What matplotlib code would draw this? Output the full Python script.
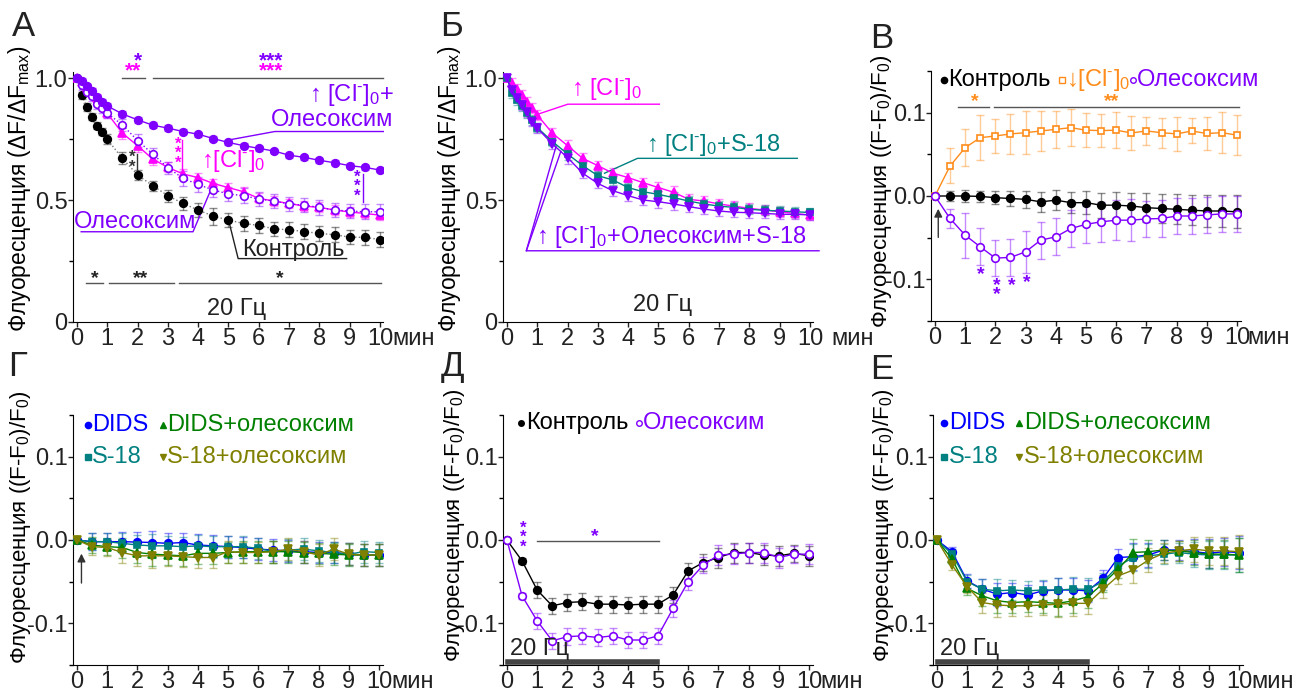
import numpy as np
import matplotlib
matplotlib.use("Agg")
import matplotlib.pyplot as plt
from matplotlib.lines import Line2D

plt.rcParams['font.family'] = ['Liberation Sans', 'DejaVu Sans']
plt.rcParams['mathtext.fontset'] = 'custom'
plt.rcParams['mathtext.rm'] = 'Liberation Sans'
plt.rcParams['mathtext.it'] = 'Liberation Sans'
plt.rcParams['axes.unicode_minus'] = False

# ---------------- data ----------------
# panels A and Б: fast sampling during the first minute
t_ab = [0, 1/6, 2/6, 3/6, 4/6, 5/6, 1, 1.5, 2, 2.5, 3, 3.5, 4, 4.5, 5, 5.5,
        6, 6.5, 7, 7.5, 8, 8.5, 9, 9.5, 10]
# other panels: every 30 s
t_half = [0, 0.5, 1, 1.5, 2, 2.5, 3, 3.5, 4, 4.5, 5, 5.5, 6, 6.5, 7, 7.5,
          8, 8.5, 9, 9.5, 10]

# A
a_ctrl = [1.0, 0.929, 0.881, 0.842, 0.805, 0.781, 0.749, 0.671, 0.603, 0.559,
          0.518, 0.486, 0.459, 0.434, 0.418, 0.404, 0.396, 0.382, 0.378, 0.371,
          0.363, 0.358, 0.348, 0.347, 0.338]
a_ctrl_err = [0, 0.015, 0.015, 0.015, 0.015, 0.015, 0.02, 0.025, 0.02, 0.02,
              0.025, 0.025, 0.03, 0.035, 0.03, 0.03, 0.03, 0.03, 0.03, 0.03,
              0.03, 0.03, 0.03, 0.03, 0.03]
a_cl_ole = [1.0, 0.99, 0.966, 0.948, 0.922, 0.904, 0.886, 0.853, 0.829, 0.807,
            0.795, 0.781, 0.770, 0.752, 0.736, 0.723, 0.712, 0.701, 0.684,
            0.675, 0.663, 0.653, 0.641, 0.634, 0.623]
a_cl_ole_err = [0, 0.01, 0.01, 0.01, 0.01, 0.01, 0.01, 0.012, 0.012, 0.012,
                0.012, 0.012, 0.01, 0.01, 0.01, 0.01, 0.01, 0.01, 0.01, 0.01,
                0.01, 0.01, 0.01, 0.01, 0.01]
a_cl = [1.0, 0.982, 0.959, 0.945, 0.918, 0.897, 0.856, 0.774, 0.723, 0.668,
        0.634, 0.607, 0.592, 0.568, 0.551, 0.534, 0.507, 0.496, 0.486, 0.475,
        0.470, 0.459, 0.451, 0.445, 0.438]
a_cl_err = [0, 0.015, 0.015, 0.015, 0.015, 0.015, 0.02, 0.025, 0.025, 0.025,
            0.02, 0.02, 0.02, 0.02, 0.02, 0.02, 0.02, 0.02, 0.02, 0.02, 0.02,
            0.02, 0.02, 0.02, 0.02]
a_ole = [1.0, 0.973, 0.945, 0.925, 0.893, 0.877, 0.856, 0.808, 0.744, 0.689,
         0.633, 0.589, 0.564, 0.541, 0.525, 0.518, 0.504, 0.496, 0.484, 0.479,
         0.470, 0.459, 0.455, 0.452, 0.452]
a_ole_err = [0, 0.02, 0.02, 0.02, 0.02, 0.02, 0.02, 0.025, 0.025, 0.025, 0.025,
             0.03, 0.03, 0.03, 0.03, 0.03, 0.03, 0.03, 0.03, 0.03, 0.03, 0.03,
             0.03, 0.03, 0.03]

# Б
b_cl = [1.0, 0.979, 0.955, 0.932, 0.904, 0.877, 0.849, 0.774, 0.723, 0.671,
        0.641, 0.610, 0.592, 0.571, 0.551, 0.532, 0.503, 0.496, 0.484, 0.475,
        0.466, 0.459, 0.452, 0.445, 0.438]
b_cl_s18 = [1.0, 0.94, 0.91, 0.885, 0.856, 0.829, 0.797, 0.74, 0.689, 0.641,
            0.60, 0.582, 0.551, 0.534, 0.523, 0.51, 0.496, 0.484, 0.475, 0.47,
            0.462, 0.458, 0.455, 0.452, 0.449]
b_cl_ole_s18 = [1.0, 0.95, 0.92, 0.89, 0.86, 0.822, 0.795, 0.73, 0.674, 0.61,
                0.568, 0.538, 0.518, 0.50, 0.493, 0.484, 0.473, 0.463, 0.455,
                0.45, 0.448, 0.445, 0.442, 0.441, 0.44]
b_err = [0, 0.02, 0.02, 0.02, 0.02, 0.02, 0.02, 0.02, 0.025, 0.02, 0.02, 0.02,
         0.02, 0.02, 0.025, 0.025, 0.02, 0.02, 0.02, 0.02, 0.02, 0.02, 0.02,
         0.02, 0.02]

# В
c_ctrl = [0, 0, 0, -0.0005, -0.002, -0.003, -0.004, -0.007, -0.005, -0.008,
          -0.008, -0.011, -0.011, -0.012, -0.014, -0.015, -0.016, -0.017,
          -0.018, -0.018, -0.019]
c_ctrl_err = [0, 0.006, 0.007, 0.007, 0.008, 0.009, 0.01, 0.012, 0.012, 0.013,
              0.014, 0.015, 0.016, 0.016, 0.017, 0.017, 0.018, 0.018, 0.019,
              0.019, 0.02]
c_lowcl = [0, 0.036, 0.058, 0.070, 0.072, 0.0745, 0.076, 0.078, 0.080, 0.082,
           0.079, 0.0785, 0.079, 0.0757, 0.078, 0.076, 0.0745, 0.078, 0.075,
           0.076, 0.073]
c_lowcl_err = [0, 0.021, 0.022, 0.027, 0.02, 0.024, 0.026, 0.024, 0.022, 0.022,
               0.02, 0.02, 0.022, 0.02, 0.017, 0.018, 0.02, 0.015, 0.02, 0.025,
               0.024]
c_ole = [0, -0.027, -0.047, -0.061, -0.0745, -0.0737, -0.067, -0.053, -0.049,
         -0.039, -0.034, -0.031, -0.029, -0.029, -0.0275, -0.027, -0.024,
         -0.024, -0.0227, -0.0215, -0.0215]
c_ole_err = [0, 0.011, 0.027, 0.022, 0.022, 0.022, 0.025, 0.022, 0.022, 0.022,
             0.022, 0.024, 0.024, 0.025, 0.022, 0.022, 0.022, 0.022, 0.022,
             0.022, 0.022]

# Г
g_dids = [0, -0.002, -0.002, -0.002, -0.0025, -0.003, -0.004, -0.003, -0.006,
          -0.007, -0.008, -0.009, -0.011, -0.012, -0.013, -0.014, -0.015,
          -0.015, -0.017, -0.018, -0.018]
g_dids_ole = [0, -0.006, -0.008, -0.009, -0.015, -0.017, -0.018, -0.019,
              -0.016, -0.016, -0.015, -0.014, -0.014, -0.014, -0.014, -0.015,
              -0.016, -0.017, -0.018, -0.018, -0.018]
g_s18 = [0, -0.002, -0.002, -0.004, -0.006, -0.007, -0.007, -0.008, -0.007,
         -0.008, -0.008, -0.008, -0.010, -0.014, -0.012, -0.011, -0.013,
         -0.015, -0.017, -0.014, -0.015]
g_s18_ole = [0, -0.008, -0.009, -0.015, -0.019, -0.019, -0.019, -0.020,
             -0.021, -0.021, -0.014, -0.015, -0.015, -0.014, -0.011, -0.014,
             -0.018, -0.011, -0.017, -0.018, -0.018]
g_err = [0, 0.01, 0.01, 0.012, 0.012, 0.014, 0.012, 0.012, 0.013, 0.013, 0.013,
         0.013, 0.013, 0.013, 0.013, 0.013, 0.013, 0.013, 0.013, 0.013, 0.013]

# Д
d_ctrl = [0, -0.025, -0.060, -0.079, -0.075, -0.074, -0.077, -0.077, -0.078,
          -0.077, -0.077, -0.066, -0.037, -0.027, -0.021, -0.015, -0.015,
          -0.018, -0.019, -0.016, -0.019]
d_ole = [0, -0.067, -0.097, -0.121, -0.116, -0.115, -0.117, -0.115, -0.120,
         -0.120, -0.115, -0.082, -0.050, -0.030, -0.018, -0.017, -0.015,
         -0.015, -0.021, -0.017, -0.017]
d_err = [0, 0.004, 0.01, 0.01, 0.01, 0.01, 0.01, 0.01, 0.01, 0.01, 0.01, 0.01,
         0.01, 0.01, 0.012, 0.012, 0.012, 0.012, 0.012, 0.01, 0.012]

# Е
e_dids = [0, -0.014, -0.049, -0.059, -0.065, -0.063, -0.066, -0.061, -0.060,
          -0.060, -0.061, -0.046, -0.021, -0.020, -0.018, -0.012, -0.012,
          -0.014, -0.016, -0.014, -0.015]
e_s18 = [0, -0.017, -0.050, -0.059, -0.061, -0.060, -0.061, -0.060, -0.060,
         -0.059, -0.059, -0.050, -0.031, -0.021, -0.019, -0.017, -0.015,
         -0.017, -0.018, -0.018, -0.018]
e_dids_ole = [0, -0.023, -0.058, -0.067, -0.073, -0.075, -0.074, -0.075,
              -0.076, -0.073, -0.068, -0.052, -0.035, -0.015, -0.014, -0.012,
              -0.013, -0.015, -0.017, -0.017, -0.018]
e_s18_ole = [0, -0.030, -0.056, -0.075, -0.078, -0.079, -0.079, -0.078,
             -0.077, -0.076, -0.076, -0.059, -0.043, -0.036, -0.024, -0.016,
             -0.013, -0.011, -0.013, -0.013, -0.014]
e_err = [0, 0.006, 0.008, 0.012, 0.014, 0.012, 0.012, 0.012, 0.015, 0.015,
         0.013, 0.01, 0.01, 0.016, 0.014, 0.012, 0.012, 0.015, 0.017, 0.017,
         0.02]

PURPLE = '#8000ff'
PINK = '#ff00ff'
TEAL = '#008080'
ORANGE = '#ff8c1a'
BLUE = '#0000ff'
GREEN = '#008000'
OLIVE = '#808000'
GREY = '#555555'
INK = '#222222'

W, H = 1298, 693
fig = plt.figure(figsize=(W / 100, H / 100), dpi=100)

TICK_FS = 17
TXT_FS = 17
LEG_FS = 17


def make_ax(l, r, t, b):
    return fig.add_axes([l / W, 1 - b / H, (r - l) / W, (b - t) / H])


def style(ax, xlim, ylim, min_x):
    ax.set_xlim(*xlim)
    ax.set_ylim(*ylim)
    for s in ('top', 'right'):
        ax.spines[s].set_visible(False)
    ax.set_xticks(range(11))
    ax.tick_params(axis='both', which='major', length=3.5, width=1, pad=0.5,
                   labelsize=TICK_FS, colors=INK)
    ax.tick_params(axis='both', which='minor', length=3, width=1)
    ax.annotate('мин', xy=(min_x, 0), xycoords=('data', 'axes fraction'),
                xytext=(0, -4.0), textcoords='offset points', ha='left',
                va='top', fontsize=TICK_FS, color=INK,
                annotation_clip=False)


def series(ax, x, y, err, color, marker, mfc=None, ls='-', ms=5.5, lc=None):
    ax.errorbar(x, y, yerr=err, fmt='none', ecolor=color, alpha=0.45,
                elinewidth=1, capsize=3, capthick=1, zorder=2)
    ax.plot(x, y, ls=ls, color=lc or color, lw=1, marker=marker, ms=ms,
            mfc=mfc or color, mec=color, mew=1.2, zorder=3)


def path(ax, xs, ys, color, lw=1):
    ax.add_line(Line2D(xs, ys, color=color, lw=lw, clip_on=False))


def stars(ax, x, y, s, color, fs=15):
    ax.text(x, y, s, color=color, fontsize=fs, ha='center', va='center',
            clip_on=False, fontweight='bold')


def vstars(ax, x, y, n, color):
    ax.text(x, y, '\n'.join(['*'] * n), color=color, fontsize=12,
            ha='center', va='center', linespacing=0.55, fontweight='bold')


fdf = 'Флуоресценция (ΔF/ΔF$_{\\mathrm{max}}$)'
fff = 'Флуоресценция ((F-F$_0$)/F$_0$)'
cl0 = '[Cl$^{\\text{-}}$]$_{0}$'

# ---------------- A ----------------
ax = make_ax(73, 383, 72, 322)
style(ax, (-0.13, 10.1), (0, 1.025), 10.42)
ax.set_yticks([0, 0.5, 1.0])
ax.set_yticklabels(['0', '0.5', '1.0'])
ax.set_yticks([0.25, 0.75], minor=True)
ax.set_ylabel(fdf, fontsize=16.5)
ax.yaxis.set_label_coords(-0.13, 0.535)
series(ax, t_ab, a_ctrl, a_ctrl_err, 'black', 'o', ls=':', lc='#777777')
series(ax, t_ab, a_cl, a_cl_err, PINK, '^')
series(ax, t_ab, a_ole, a_ole_err, PURPLE, 'o', mfc='white', ls=':')
series(ax, t_ab, a_cl_ole, a_cl_ole_err, PURPLE, 'o')
path(ax, [1.5, 2.24], [1.0, 1.0], GREY)
path(ax, [2.52, 10.1], [1.0, 1.0], GREY)
stars(ax, 2.0, 1.07, '*', PURPLE)
stars(ax, 1.85, 1.03, '**', PINK)
stars(ax, 6.4, 1.07, '***', PURPLE)
stars(ax, 6.4, 1.03, '***', PINK)
ax.text(10.45, 0.93, '↑ ' + cl0 + '+', color=PURPLE, fontsize=TXT_FS,
        ha='right', va='center')
ax.text(10.45, 0.83, 'Олесоксим', color=PURPLE, fontsize=TXT_FS,
        ha='right', va='center')
path(ax, [5.04, 6.53, 10.11], [0.747, 0.781, 0.781], PURPLE)
vstars(ax, 3.34, 0.69, 3, PINK)
path(ax, [3.48, 3.48], [0.747, 0.616], PINK)
vstars(ax, 1.83, 0.655, 2, '#333333')
path(ax, [1.98, 1.98], [0.69, 0.62], '#333333')
vstars(ax, 9.25, 0.555, 3, PURPLE)
path(ax, [9.45, 9.45], [0.607, 0.493], PURPLE)
ax.text(4.1, 0.66, '↑' + cl0, color=PINK, fontsize=TXT_FS, ha='left',
        va='center')
ax.text(-0.1, 0.41, 'Олесоксим', color=PURPLE, fontsize=TXT_FS, ha='left',
        va='center')
path(ax, [0.14, 3.83, 4.44], [0.37, 0.37, 0.548], PURPLE)
ax.text(5.45, 0.297, 'Контроль', color=INK, fontsize=TXT_FS,
        ha='left', va='center')
path(ax, [4.99, 5.32, 8.9], [0.425, 0.26, 0.26], INK)
path(ax, [0.29, 0.86], [0.16, 0.16], GREY)
path(ax, [1.06, 3.2], [0.16, 0.16], GREY)
path(ax, [3.37, 10.04], [0.16, 0.16], GREY)
stars(ax, 0.6, 0.18, '*', INK, fs=14)
stars(ax, 2.1, 0.18, '**', INK, fs=14)
stars(ax, 6.7, 0.18, '*', INK, fs=14)
ax.text(5.26, 0.055, '20 Гц', fontsize=TXT_FS, ha='center', va='center',
        color=INK)

# ---------------- Б ----------------
ax = make_ax(503, 813, 72, 322)
style(ax, (-0.13, 10.1), (0, 1.025), 10.72)
ax.set_yticks([0, 0.5, 1.0])
ax.set_yticklabels(['0', '0.5', '1.0'])
ax.set_yticks([0.25, 0.75], minor=True)
ax.set_ylabel(fdf, fontsize=16.5)
ax.yaxis.set_label_coords(-0.13, 0.535)
series(ax, t_ab, b_cl, b_err, PINK, '^')
series(ax, t_ab, b_cl_s18, b_err, TEAL, 's', ms=5)
series(ax, t_ab, b_cl_ole_s18, b_err, PURPLE, 'v')
ax.text(2.1, 0.955, '↑ ' + cl0, color=PINK, fontsize=TXT_FS, ha='left',
        va='center')
path(ax, [1.02, 2.01, 5.03], [0.852, 0.893, 0.893], PINK)
ax.text(4.6, 0.726, '↑ ' + cl0 + '+S-18', color=TEAL, fontsize=TXT_FS,
        ha='left', va='center')
path(ax, [3.22, 4.31, 9.58], [0.61, 0.671, 0.671], TEAL)
ax.text(0.95, 0.35, '↑ ' + cl0 + '+Олесоксим+S-18', color=PURPLE,
        fontsize=TXT_FS, ha='left', va='center')
path(ax, [1.62, 0.64, 10.3], [0.72, 0.292, 0.292], PURPLE)
path(ax, [1.78, 0.64], [0.70, 0.292], PURPLE)
ax.text(5.14, 0.068, '20 Гц', fontsize=TXT_FS, ha='center', va='center',
        color=INK)


def dff_axes(l, r, t, b, min_x, lab_x, lab_y):
    ax = make_ax(l, r, t, b)
    style(ax, (-0.13, 10.13), (-0.15, 0.15), min_x)
    ax.set_yticks([-0.1, 0.0, 0.1])
    ax.set_yticklabels(['-0.1', '0.0', '0.1'])
    ax.set_yticks([-0.15, -0.05, 0.05, 0.15], minor=True)
    ax.set_ylabel(fff, fontsize=16)
    ax.yaxis.set_label_coords(lab_x, lab_y)
    return ax


def legend_item(ax, x, y, marker, color, label, mfc=None, ms=4.5):
    ax.plot([x], [y], marker=marker, color=color, mfc=mfc or color, ms=ms,
            ls='none', clip_on=False)
    ax.text(x + 0.15, y, label, color=color, fontsize=LEG_FS, ha='left',
            va='center')


# ---------------- В ----------------
ax = dff_axes(931, 1241, 71, 321, 10.33, -0.12, 0.52)
series(ax, t_half, c_ctrl, c_ctrl_err, 'black', 'o')
series(ax, t_half, c_lowcl, c_lowcl_err, ORANGE, 's', mfc='white', ms=5)
series(ax, t_half, c_ole, c_ole_err, PURPLE, 'o', mfc='white')
legend_item(ax, 0.3, 0.139, 'o', 'black', 'Контроль')
legend_item(ax, 4.2, 0.139, 's', ORANGE, '↓' + cl0, mfc='white', ms=4)
legend_item(ax, 6.55, 0.139, 'o', PURPLE, 'Олесоксим', mfc='white', ms=4)
path(ax, [0.77, 1.8], [0.107, 0.107], GREY)
path(ax, [1.96, 10.08], [0.107, 0.107], GREY)
stars(ax, 1.32, 0.113, '*', ORANGE, fs=14)
stars(ax, 5.84, 0.113, '**', ORANGE, fs=14)
stars(ax, 1.52, -0.094, '*', PURPLE, fs=14)
stars(ax, 2.04, -0.107, '*', PURPLE, fs=14)
stars(ax, 2.04, -0.118, '*', PURPLE, fs=14)
stars(ax, 2.53, -0.107, '*', PURPLE, fs=14)
stars(ax, 3.03, -0.104, '*', PURPLE, fs=14)
ax.annotate('', xy=(0.11, -0.012), xytext=(0.11, -0.053),
            arrowprops=dict(arrowstyle='-|>', color='#333333', lw=1,
                            mutation_scale=12))

# ---------------- Г ----------------
ax = dff_axes(73, 383, 415, 665, 10.42, -0.13, 0.55)
series(ax, t_half, g_dids, g_err, BLUE, 'o')
series(ax, t_half, g_s18, g_err, TEAL, 's', ms=5)
series(ax, t_half, g_dids_ole, g_err, GREEN, '^')
series(ax, t_half, g_s18_ole, g_err, OLIVE, 'v')
legend_item(ax, 0.36, 0.138, 'o', BLUE, 'DIDS')
legend_item(ax, 2.84, 0.138, '^', GREEN, 'DIDS+олесоксим')
legend_item(ax, 0.36, 0.1, 's', TEAL, 'S-18')
legend_item(ax, 2.84, 0.1, 'v', OLIVE, 'S-18+олесоксим')
ax.annotate('', xy=(0.15, -0.013), xytext=(0.15, -0.055),
            arrowprops=dict(arrowstyle='-|>', color='#333333', lw=1,
                            mutation_scale=12))


def stim_bar(ax):
    path(ax, [0.05, 4.97], [-0.146, -0.146], '#444444', lw=4)
    ax.text(0.09, -0.131, '20 Гц', fontsize=TXT_FS, ha='left', va='center',
            color=INK)


# ---------------- Д ----------------
ax = dff_axes(503, 813, 415, 665, 10.36, -0.116, 0.56)
series(ax, t_half, d_ctrl, d_err, 'black', 'o')
series(ax, t_half, d_ole, d_err, PURPLE, 'o', mfc='white')
legend_item(ax, 0.47, 0.14, 'o', 'black', 'Контроль', ms=4)
legend_item(ax, 4.36, 0.14, 'o', PURPLE, 'Олесоксим', mfc='white', ms=4)
vstars(ax, 0.53, 0.003, 3, PURPLE)
path(ax, [0.99, 5.04], [-0.001, -0.001], GREY)
stars(ax, 2.92, 0.004, '*', PURPLE, fs=14)
stim_bar(ax)

# ---------------- Е ----------------
ax = dff_axes(933, 1243, 415, 665, 10.4, -0.12, 0.56)
series(ax, t_half, e_dids, e_err, BLUE, 'o')
series(ax, t_half, e_s18, e_err, TEAL, 's', ms=5)
series(ax, t_half, e_dids_ole, e_err, GREEN, '^')
series(ax, t_half, e_s18_ole, e_err, OLIVE, 'v')
legend_item(ax, 0.25, 0.14, 'o', BLUE, 'DIDS')
legend_item(ax, 2.73, 0.14, '^', GREEN, 'DIDS+олесоксим')
legend_item(ax, 0.25, 0.1, 's', TEAL, 'S-18')
legend_item(ax, 2.73, 0.1, 'v', OLIVE, 'S-18+олесоксим')
stim_bar(ax)

# panel letters
for x, y, s in [(12, 10, 'А'), (440, 10, 'Б'), (870, 22, 'В'),
                (8, 350, 'Г'), (441, 350, 'Д'), (870, 353, 'Е')]:
    fig.text(x / W, 1 - y / H, s, fontsize=25, ha='left', va='top',
             color=INK)

fig.savefig('out.png', dpi=100)
